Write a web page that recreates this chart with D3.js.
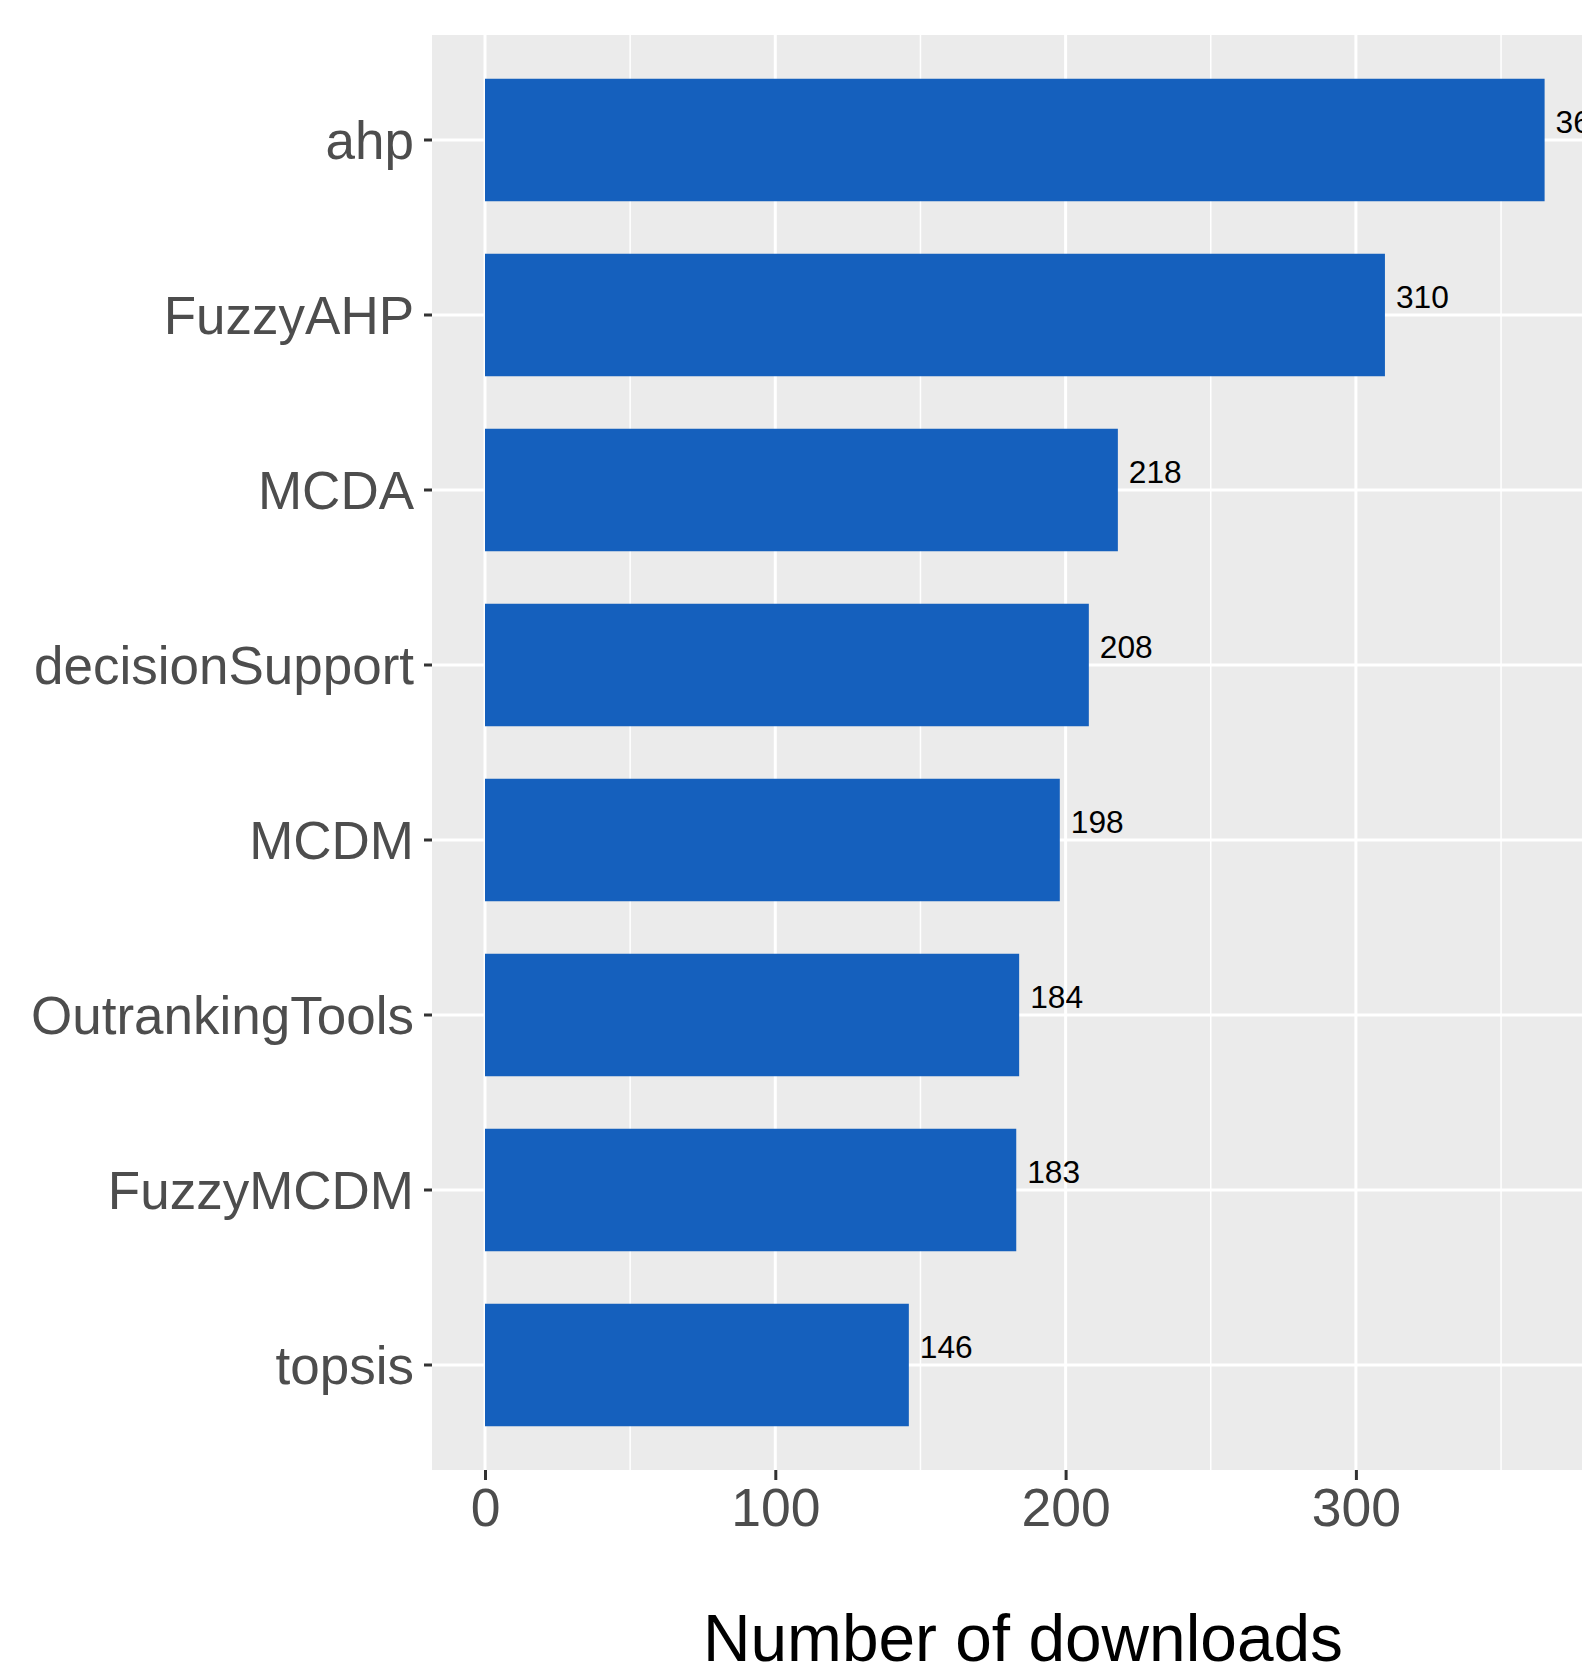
<!DOCTYPE html>
<html>
<head>
<meta charset="utf-8">
<script src="https://cdn.jsdelivr.net/npm/d3@7"></script>
<style>
  html, body { margin: 0; padding: 0; background: #fff; }
  svg { display: block; }
</style>
</head>
<body>
<svg id="chart" width="1582" height="1673"></svg>
<script>
// ---- data ----
const categories = ["ahp", "FuzzyAHP", "MCDA", "decisionSupport", "MCDM", "OutrankingTools", "FuzzyMCDM", "topsis"];
const downloads = [365, 310, 218, 208, 198, 184, 183, 146];
const xMajorTicks = [0, 100, 200, 300];
const xMinorTicks = [50, 150, 250, 350];
const xTitle = "Number of downloads";

// ---- layout ----
const svg = d3.select("#chart");
const font = "'Liberation Sans', Arial, Helvetica, sans-serif";
const panelTop = 35, panelBottom = 1470;
const maxV = d3.max(downloads);
const expand = maxV * 0.05;

const x = d3.scaleLinear().domain([0, maxV]).range([485, 1544.6]);
const panelLeft = x(-expand), panelRight = x(maxV + expand);

const y = d3.scaleBand().domain(categories)
  .range([panelTop, panelBottom]).paddingInner(0.3).paddingOuter(0.25);

// panel
svg.append("rect")
  .attr("x", panelLeft).attr("y", panelTop)
  .attr("width", panelRight - panelLeft).attr("height", panelBottom - panelTop)
  .attr("fill", "#EBEBEB");

const grid = svg.append("g");
// minor verticals
grid.selectAll("line.minor").data(xMinorTicks).join("line")
  .attr("class", "minor")
  .attr("x1", d => x(d)).attr("x2", d => x(d))
  .attr("y1", panelTop).attr("y2", panelBottom)
  .attr("stroke", "#fff").attr("stroke-width", 1.5);
// major verticals
grid.selectAll("line.majorx").data(xMajorTicks).join("line")
  .attr("class", "majorx")
  .attr("x1", d => x(d)).attr("x2", d => x(d))
  .attr("y1", panelTop).attr("y2", panelBottom)
  .attr("stroke", "#fff").attr("stroke-width", 3);
// major horizontals
grid.selectAll("line.majory").data(categories).join("line")
  .attr("class", "majory")
  .attr("x1", panelLeft).attr("x2", panelRight)
  .attr("y1", d => y(d) + y.bandwidth() / 2).attr("y2", d => y(d) + y.bandwidth() / 2)
  .attr("stroke", "#fff").attr("stroke-width", 3);

// bars
svg.append("g").selectAll("rect").data(categories).join("rect")
  .attr("x", x(0))
  .attr("y", d => y(d))
  .attr("width", (d, i) => x(downloads[i]) - x(0))
  .attr("height", y.bandwidth())
  .attr("fill", "#1560BD");

// value labels
svg.append("g").selectAll("text").data(categories).join("text")
  .attr("x", (d, i) => x(downloads[i]) + 11)
  .attr("y", d => y(d) + y.bandwidth() / 2 - 7)
  .attr("font-family", font).attr("font-size", 31.7)
  .attr("fill", "#000")
  .text((d, i) => downloads[i]);

// y axis
const yAxis = svg.append("g")
  .attr("transform", `translate(${panelLeft},0)`)
  .call(d3.axisLeft(y).tickSize(8).tickPadding(10));
yAxis.select(".domain").remove();
yAxis.selectAll(".tick line").attr("stroke", "#333333").attr("stroke-width", 3);
yAxis.selectAll(".tick text")
  .attr("font-family", font).attr("font-size", 53).attr("fill", "#4D4D4D")
  .attr("dy", "0.36em");

// x axis
const xAxis = svg.append("g")
  .attr("transform", `translate(0,${panelBottom})`)
  .call(d3.axisBottom(x).tickValues(xMajorTicks).tickSize(10).tickPadding(8).tickFormat(d3.format("d")));
xAxis.select(".domain").remove();
xAxis.selectAll(".tick line").attr("stroke", "#333333").attr("stroke-width", 3);
xAxis.selectAll(".tick text")
  .attr("font-family", font).attr("font-size", 53.5).attr("fill", "#4D4D4D");

// x title
svg.append("text")
  .attr("x", 1023).attr("y", 1661)
  .attr("text-anchor", "middle")
  .attr("font-family", font).attr("font-size", 65.8).attr("fill", "#000")
  .text(xTitle);
</script>
</body>
</html>
